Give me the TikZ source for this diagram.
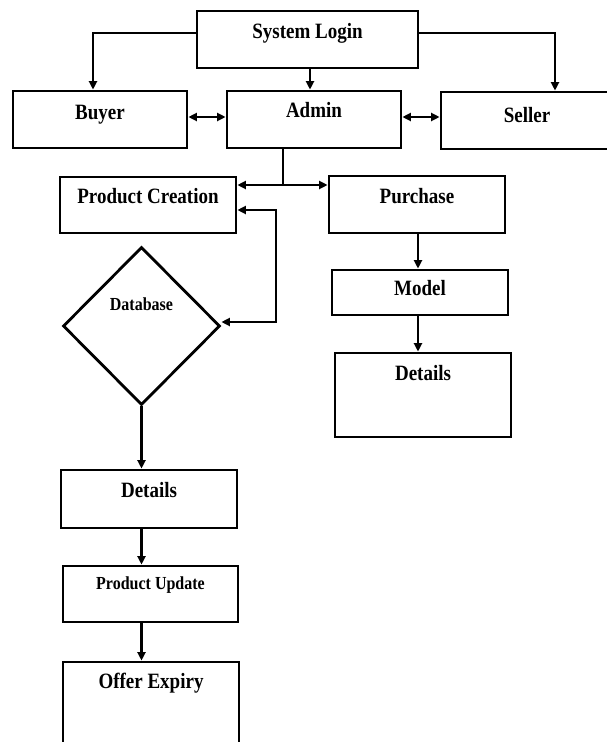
\documentclass[tikz,border=0pt]{standalone}
\usepackage{fontspec}
\setmainfont{Liberation Serif}
\usetikzlibrary{shapes.geometric,arrows.meta}
\newcommand{\T}[1]{\scalebox{1}[1.15]{#1}}
\tikzset{
  box/.style={draw, line width=2.8pt, rectangle, inner sep=0pt},
  dia/.style={draw, line width=2.8pt, diamond, inner sep=0pt},
  lbl/.style={font=\fontsize{19}{21}\selectfont\bfseries, inner sep=0pt},
  slbl/.style={font=\fontsize{16}{18}\selectfont\bfseries, inner sep=0pt},
  ln/.style={line width=2.8pt},
  arr/.style={line width=2.8pt, -{Triangle[length=8.5pt,width=8pt]}},
  darr/.style={line width=2.8pt, {Triangle[length=8.5pt,width=8pt]}-{Triangle[length=8.5pt,width=8pt]}}
}
\begin{document}
\begin{tikzpicture}[x=1pt,y=-1pt]
\useasboundingbox[fill=white] (0,0) rectangle (607,742);
\clip (0,0) rectangle (607,742);
% boxes
\node[box, minimum width=221pt, minimum height=57pt, label={[lbl,yshift=6.5pt]center:{\T{System Login}}}] (sl) at (307.5,39.5) {};
\node[box, minimum width=174pt, minimum height=57pt, label={[lbl,yshift=4.5pt]center:{\T{Buyer}}}] (buyer) at (100,119.5) {};
\node[box, minimum width=174pt, minimum height=57pt, label={[lbl,yshift=9.5pt]center:{\T{Admin}}}] (admin) at (314,119.5) {};
\node[box, minimum width=172pt, minimum height=57pt, label={[lbl,yshift=5.5pt]center:{\T{Seller}}}] (seller) at (527,120.5) {};
\node[box, minimum width=176pt, minimum height=56pt, label={[lbl,yshift=9pt]center:{\T{Product Creation}}}] (pc) at (148,205) {};
\node[box, minimum width=176pt, minimum height=57pt, label={[lbl,yshift=8.5pt]center:{\T{Purchase}}}] (pur) at (417,204.5) {};
\node[box, minimum width=176pt, minimum height=45pt, label={[lbl,yshift=4.5pt]center:{\T{Model}}}] (model) at (420,292.5) {};
\node[box, minimum width=176pt, minimum height=84pt, label={[lbl,yshift=22pt]center:{\T{Details}}}] (detr) at (423,395) {};
\node[dia, minimum width=157pt, minimum height=158pt, label={[slbl,yshift=22pt]center:{\T{Database}}}] (db) at (141.5,326) {};
\node[box, minimum width=176pt, minimum height=58pt, label={[lbl,yshift=9pt]center:{\T{Details}}}] (detl) at (149,499) {};
\node[box, minimum width=175pt, minimum height=56pt, label={[slbl,yshift=9pt]center:{\T{Product Update}}}] (pu) at (150.5,594) {};
\node[box, minimum width=176pt, minimum height=90pt, label={[lbl,yshift=24pt]center:{\T{Offer Expiry}}}] (oe) at (151,707) {};
% connectors
\draw[arr] ([yshift=6.5pt]sl.west) -| ([xshift=-7pt]buyer.north);
\draw[arr] ([yshift=6.5pt]sl.east) -| ([xshift=28pt]seller.north);
\draw[arr] ([xshift=2.5pt]sl.south) -- ([xshift=2.5pt]sl.south |- admin.north);
\draw[darr] ([yshift=2.5pt]buyer.east) -- ([yshift=2.5pt]buyer.east -| admin.west);
\draw[darr] ([yshift=2.5pt]admin.east) -- ([yshift=2.5pt]admin.east -| seller.west);
\coordinate (j) at (283,185);
\draw[ln] (admin.south -| j) -- (j);
\draw[arr] (j) -- (j -| pc.east);
\draw[arr] (j) -- (j -| pur.west);
\coordinate (k) at (276,210);
\draw[darr] (k -| pc.east) -- (k) |- ([yshift=4pt]db.east);
\draw[arr] ([xshift=1pt]pur.south) -- ([xshift=1pt]pur.south |- model.north);
\draw[arr] ([xshift=-2pt]model.south) -- ([xshift=-2pt]model.south |- detr.north);
\draw[arr] (db.south) -- (db.south |- detl.north);
\draw[arr] (db.south |- detl.south) -- (db.south |- pu.north);
\draw[arr] (db.south |- pu.south) -- (db.south |- oe.north);
\end{tikzpicture}
\end{document}
